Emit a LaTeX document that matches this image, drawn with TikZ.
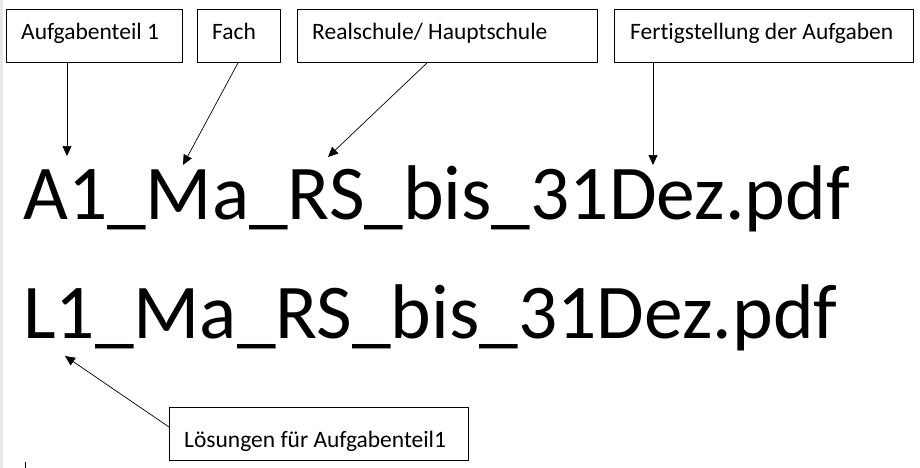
\documentclass[tikz,border=0pt]{standalone}
\usepackage{fontspec}
\setmainfont{Carlito}[Ligatures={NoCommon}]
\usetikzlibrary{arrows.meta}
\tikzset{
  boxstyle/.style={draw=black, line width=0.9pt, anchor=north west, inner sep=0pt, minimum height=53pt},
  txt/.style={anchor=base west, inner sep=0pt, font=\fontsize{23.5}{28}\selectfont},
  big/.style={anchor=base west, inner sep=0pt, font=\fontsize{77.5}{90}\selectfont},
  arr/.style={draw=black, line width=0.7pt, -{Triangle[length=10pt,width=9pt]}},
}
\begin{document}
\begin{tikzpicture}[x=1pt,y=-1pt]
\useasboundingbox (0,0) rectangle (920,468);
\fill[black!9] (0,0) rectangle (3,468);
\draw[black, line width=0.8pt] (25,462) -- (25,468);
\node[boxstyle, minimum width=176pt] (b1) at (6,9) {};
\node[boxstyle, minimum width=83pt] (b2) at (197,9) {};
\node[boxstyle, minimum width=300pt] (b3) at (297,9) {};
\node[boxstyle, minimum width=299pt] (b4) at (614,9) {};
\node[boxstyle, minimum width=299pt] (b5) at (169,407) {};
\node[txt] (l1) at (21,40) {Aufgabenteil 1};
\node[txt] (l2) at (212,40) {Fach};
\node[txt] (l3) at (312,40) {Realschule/ Hauptschule};
\node[txt] (l4) at (630,40) {Fertigstellung der Aufgaben};
\node[txt] (l5) at (184,447) {Lösungen für Aufgabenteil1};
\node[big] (f1) at (23,219) {A1\_Ma\_RS\_bis\_31Dez.pdf};
\node[big] (f2) at (23,338) {L1\_Ma\_RS\_bis\_31Dez.pdf};
\coordinate (t1) at (67,156);
\coordinate (t2) at (183,165);
\coordinate (t3) at (328,157);
\coordinate (t4) at (653,165);
\coordinate (t5) at (65,356);
\draw[arr] (b1.south west -| t1) -- (t1);
\draw[arr] ([xshift=41pt]b2.south west) -- (t2);
\draw[arr] ([xshift=130pt]b3.south west) -- (t3);
\draw[arr] (b4.south west -| t4) -- (t4);
\draw[arr] ([yshift=-20pt]b5.north west) -- (t5);
\end{tikzpicture}
\end{document}
